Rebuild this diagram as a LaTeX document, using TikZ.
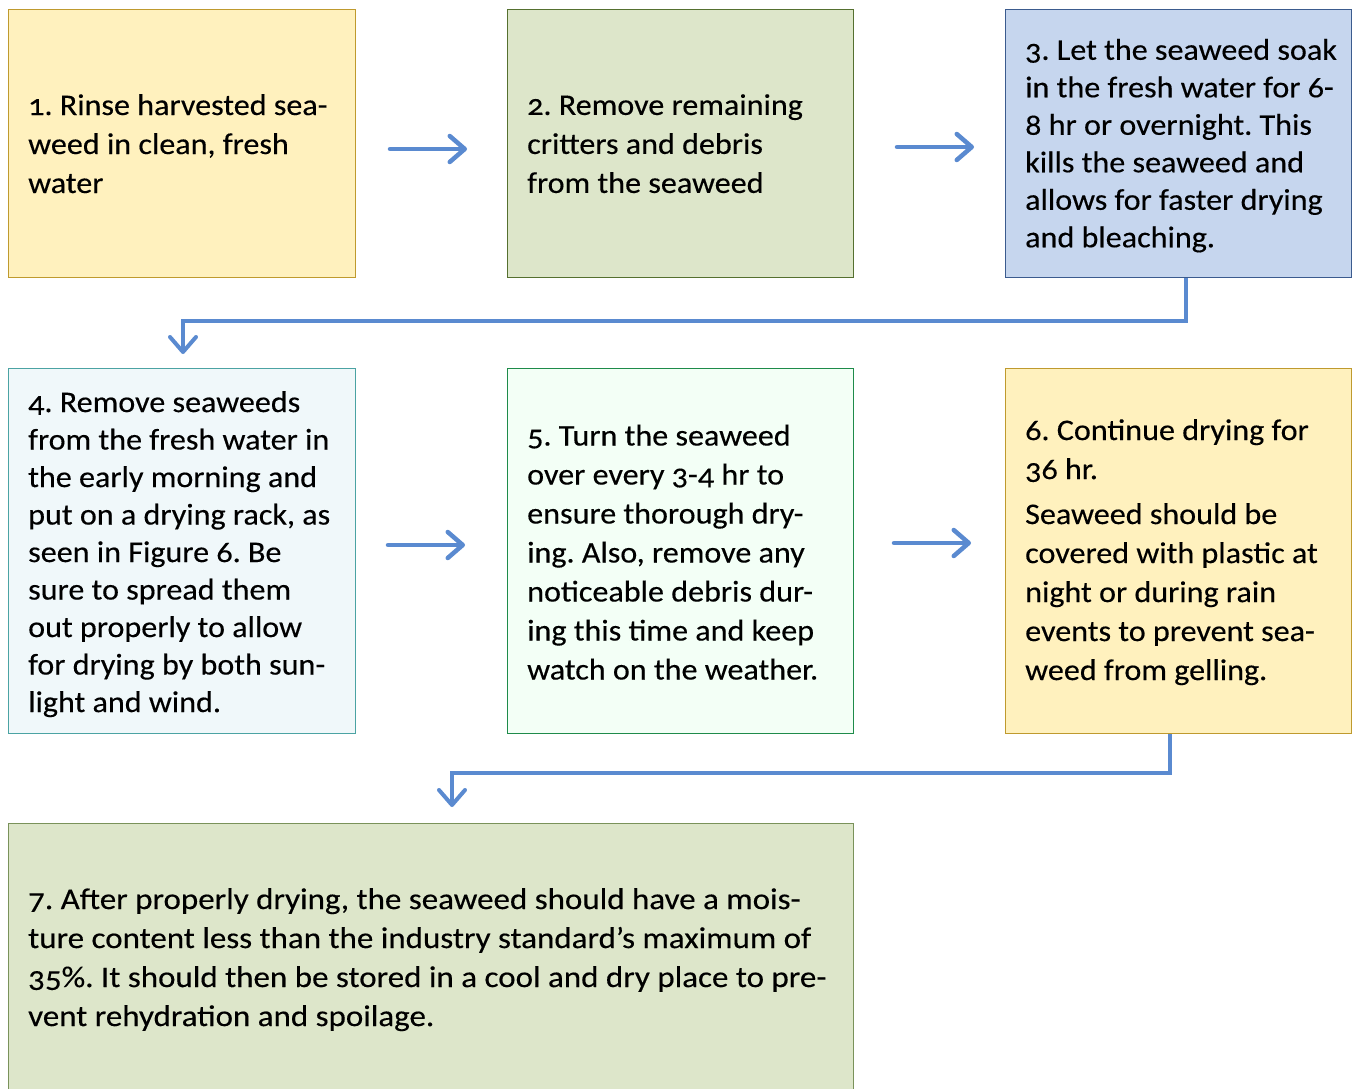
\documentclass[tikz,border=0pt]{standalone}
\usepackage{fontspec}
\setmainfont{Carlito}[Numbers=OldStyle,FakeStretch=1.07,FakeBold=0.3]
\newfontfamily\widerfont{Carlito}[Numbers=OldStyle,FakeStretch=1.10,FakeBold=0.3]
\usetikzlibrary{arrows.meta,calc}
\frenchspacing
\definecolor{yelfill}{HTML}{FFF1BE}
\definecolor{yeldraw}{HTML}{BF9A2E}
\definecolor{grnfill}{HTML}{DDE6CA}
\definecolor{grndraw}{HTML}{55702F}
\definecolor{grndrawb}{HTML}{7A925A}
\definecolor{blufill}{HTML}{C6D6EE}
\definecolor{bludraw}{HTML}{3B5B8E}
\definecolor{tealfill}{HTML}{F0F8FA}
\definecolor{tealdraw}{HTML}{4BA3A3}
\definecolor{mintfill}{HTML}{F3FFF6}
\definecolor{mintdraw}{HTML}{1E8B4A}
\definecolor{arrowblue}{HTML}{5A8AD0}
\tikzset{
  box/.style={rectangle, line width=1.4pt, inner sep=0pt, anchor=north west},
  txt/.style={anchor=west, align=left, inner sep=0pt, font=\fontsize{30}{39}\selectfont\frenchspacing},
  txtb/.style={anchor=west, align=left, inner sep=0pt, font=\fontsize{30}{37.5}\selectfont\frenchspacing},
  txtw/.style={anchor=west, align=left, inner sep=0pt, font=\widerfont\fontsize{30}{39}\selectfont\frenchspacing},
  flow/.style={draw=arrowblue, line width=4.5pt, line cap=round, line join=round,
    -{Straight Barb[length=15pt,width=26pt,line cap=round,line join=round]}},
  elbow/.style={draw=arrowblue, line width=4pt, line join=miter,
    -{Straight Barb[length=15pt,width=26pt,line cap=round,line join=round]}}
}
\begin{document}
\begin{tikzpicture}[x=1pt,y=-1pt]
\useasboundingbox (0,0) rectangle (1353,1089);
% boxes
\node[box, fill=yelfill, draw=yeldraw, minimum width=347pt, minimum height=268pt] (b1) at (8,9) {};
\node[box, fill=grnfill, draw=grndraw, minimum width=346pt, minimum height=268pt] (b2) at (507,9) {};
\node[box, fill=blufill, draw=bludraw, minimum width=346pt, minimum height=268pt] (b3) at (1005,9) {};
\node[box, fill=tealfill, draw=tealdraw, minimum width=347pt, minimum height=365pt] (b4) at (8,368) {};
\node[box, fill=mintfill, draw=mintdraw, minimum width=346pt, minimum height=365pt] (b5) at (507,368) {};
\node[box, fill=yelfill, draw=yeldraw, minimum width=346pt, minimum height=365pt] (b6) at (1005,368) {};
\node[box, fill=grnfill, draw=grndrawb, minimum width=845pt, minimum height=270pt] (b7) at (8,823) {};
% texts
\node[txt] (t1) at ($(b1.west)+(20,0)$) {1. Rinse harvested sea-\\weed in clean, fresh\\water};
\node[txt] (t2) at ($(b2.west)+(20,0)$) {2. Remove remaining\\critters and debris\\from the seaweed};
\node[txtb] (t3) at ($(b3.west)+(20,2)$) {3. Let the seaweed soak\\in the fresh water for 6-\\8 hr or overnight. This\\kills the seaweed and\\allows for faster drying\\and bleaching.};
\node[txtb] (t4) at ($(b4.west)+(20,3)$) {4. Remove seaweeds\\from the fresh water in\\the early morning and\\put on a drying rack, as\\seen in Figure 6. Be\\sure to spread them\\out properly to allow\\for drying by both sun-\\light and wind.};
\node[txt] (t5) at ($(b5.west)+(20,1)$) {5. Turn the seaweed\\over every 3-4 hr to\\ensure thorough dry-\\ing. Also, remove any\\noticeable debris dur-\\ing this time and keep\\watch on the weather.};
\node[txt] (t6) at ($(b6.west)+(20,1)$) {6. Continue drying for\\36 hr.\\[6pt]Seaweed should be\\covered with plastic at\\night or during rain\\events to prevent sea-\\weed from gelling.};
\node[txtw] (t7) at ($(b7.west)+(20,1)$) {7. After properly drying, the seaweed should have a mois-\\ture content less than the industry standard’s maximum of\\35\%. It should then be stored in a cool and dry place to pre-\\vent rehydration and spoilage.};
% horizontal arrows
\coordinate (a1s) at (390,149); \coordinate (a1e) at (467,149);
\coordinate (a2s) at (897,147); \coordinate (a2e) at (974,147);
\coordinate (a3s) at (388,545); \coordinate (a3e) at (465,545);
\coordinate (a4s) at (894,543); \coordinate (a4e) at (971,543);
\draw[flow] (a1s) -- (a1e);
\draw[flow] (a2s) -- (a2e);
\draw[flow] (a3s) -- (a3e);
\draw[flow] (a4s) -- (a4e);
% elbow connectors
\coordinate (e1) at (183,354);
\draw[elbow] (b3.south -| 1186,0) -- (1186,321) -- (183,321) -- (e1);
\coordinate (e2) at (452,807);
\draw[elbow] (b6.south -| 1170,0) -- (1170,773) -- (452,773) -- (e2);
\end{tikzpicture}
\end{document}
